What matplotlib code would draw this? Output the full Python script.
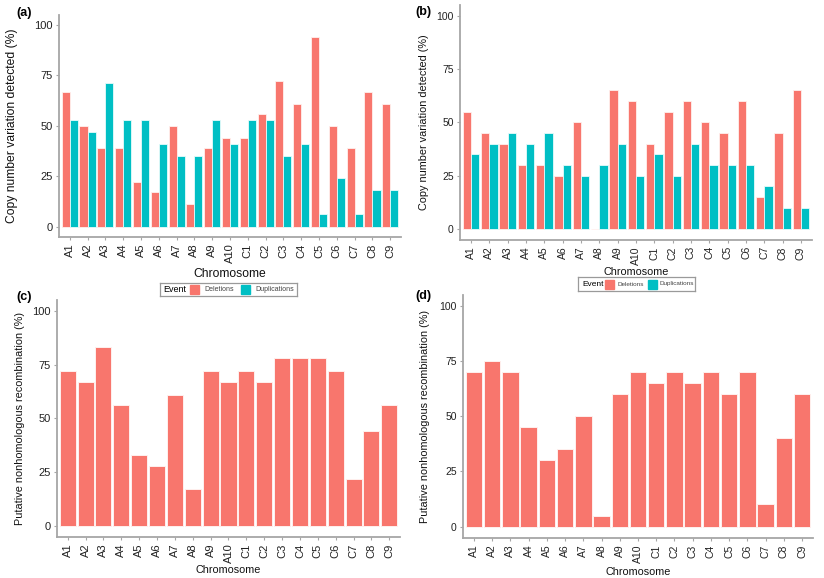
import matplotlib
matplotlib.use("Agg")
import matplotlib.pyplot as plt
import numpy as np
from matplotlib.patches import Rectangle

plt.rcParams['font.family'] = ['Liberation Sans', 'DejaVu Sans']

chromosomes = ["A1", "A2", "A3", "A4", "A5", "A6", "A7", "A8", "A9", "A10",
               "C1", "C2", "C3", "C4", "C5", "C6", "C7", "C8", "C9"]

# (a) copy number variation, first population
del_a = [67, 50, 39, 39, 22, 17, 50, 11, 39, 44, 44, 56, 72, 61, 94, 50, 39, 67, 61]
dup_a = [53, 47, 71, 53, 53, 41, 35, 35, 53, 41, 53, 53, 35, 41, 6, 24, 6, 18, 18]

# (b) copy number variation, second population
del_b = [55, 45, 40, 30, 30, 25, 50, 0, 65, 60, 40, 55, 60, 50, 45, 60, 15, 45, 65]
dup_b = [35, 40, 45, 40, 45, 30, 25, 30, 40, 25, 35, 25, 40, 30, 30, 30, 20, 10, 10]

# (c), (d) putative nonhomologous recombination
nhr_c = [72, 67, 83, 56, 33, 28, 61, 17, 72, 67, 72, 67, 78, 78, 78, 72, 22, 44, 56]
nhr_d = [70, 75, 70, 45, 30, 35, 50, 5, 60, 70, 65, 70, 65, 70, 60, 70, 10, 40, 60]

RED = "#F8766D"
CYAN = "#00BFC4"
W, H = 824, 578

fig = plt.figure(figsize=(W / 100, H / 100), dpi=100)


def px_axes(x0, x1, ytop, ybot):
    return fig.add_axes([x0 / W, 1 - ybot / H, (x1 - x0) / W, (ybot - ytop) / H])


def style(ax, x0, x1, ytop, ybot, ylab, ylab_x, xlab_y, tick_fs, lab_fs, tag, tag_xy):
    ax.set_xlim(0.4, 19.6)
    ax.set_ylim(-5.2, 105)
    ax.set_yticks([0, 25, 50, 75, 100])
    ax.set_xticks(np.arange(1, 20))
    ax.set_xticklabels(chromosomes, rotation=90)
    for s in ["top", "right"]:
        ax.spines[s].set_visible(False)
    for s in ["left", "bottom"]:
        ax.spines[s].set_color("#a6a6a6")
        ax.spines[s].set_linewidth(1.3)
    ax.tick_params(colors="#a6a6a6", labelcolor="#222222", labelsize=tick_fs,
                   length=2.5, width=0.8, pad=2)
    ax.set_ylabel(ylab, fontsize=lab_fs, color="#111111")
    ax.set_xlabel("Chromosome", fontsize=lab_fs, color="#111111")
    ax.yaxis.set_label_coords((ylab_x - x0) / (x1 - x0), 0.5)
    ax.xaxis.set_label_coords(0.5, (ybot - xlab_y) / (ybot - ytop))
    fig.text(tag_xy[0] / W, 1 - tag_xy[1] / H, tag, fontsize=9, fontweight="bold",
             ha="left", va="center")


def legend_box(x0, x1, ytop, ybot, parts):
    lax = px_axes(x0, x1, ytop, ybot)
    lax.set_xlim(x0, x1)
    lax.set_ylim(ybot, ytop)
    lax.set_xticks([])
    lax.set_yticks([])
    for s in lax.spines.values():
        s.set_color("#9a9a9a")
        s.set_linewidth(0.9)
    ym = (ytop + ybot) / 2
    ev_x, r_x, del_x, c_x, dup_x, sq, fs_t, fs_l = parts
    lax.text(ev_x, ym, "Event", fontsize=fs_t, va="center", ha="left")
    lax.add_patch(Rectangle((r_x, ym - sq / 2), sq, sq, color=RED))
    lax.text(del_x, ym, "Deletions", fontsize=fs_l, va="center", ha="left", color="#444444")
    lax.add_patch(Rectangle((c_x, ym - sq / 2), sq, sq, color=CYAN))
    lax.text(dup_x, ym, "Duplications", fontsize=fs_l, va="center", ha="left", color="#444444")


x = np.arange(1, 20)
bw = 0.45

# (a)
ax = px_axes(59, 401, 15, 237)
ax.bar(x - bw / 2, del_a, bw, color=RED, edgecolor="#fff0ee", linewidth=0.6)
ax.bar(x + bw / 2, dup_a, bw, color=CYAN, edgecolor="#e6fbfb", linewidth=0.6)
style(ax, 59, 401, 15, 237, "Copy number variation detected (%)", 18, 268, 8, 8.7,
      "(a)", (16, 13))
legend_box(160, 297, 283, 296, (163, 190, 204, 241, 255, 9, 6.5, 5))

# (b)
ax = px_axes(460, 812, 5, 240)
ax.bar(x - bw / 2, del_b, bw, color=RED, edgecolor="#fff0ee", linewidth=0.6)
ax.bar(x + bw / 2, dup_b, bw, color=CYAN, edgecolor="#e6fbfb", linewidth=0.6)
style(ax, 460, 812, 5, 240, "Copy number variation detected (%)", 429, 267, 7.5, 7.8,
      "(b)", (415, 12))
legend_box(578, 695, 277, 291, (582, 605, 617, 648, 660, 9, 6, 4.6))

# (c)
ax = px_axes(57, 400, 300, 537)
ax.bar(x, nhr_c, 0.9, color=RED, edgecolor="#fff0ee", linewidth=0.7)
style(ax, 57, 400, 300, 537, "Putative nonhomologous recombination (%)", 25, 565, 8, 7.8,
      "(c)", (16, 297))

# (d)
ax = px_axes(463, 813, 295, 538)
ax.bar(x, nhr_d, 0.9, color=RED, edgecolor="#fff0ee", linewidth=0.7)
style(ax, 463, 813, 295, 538, "Putative nonhomologous recombination (%)", 430, 567, 7.5, 7.8,
      "(d)", (415, 296))

fig.savefig("out.png", dpi=100)
